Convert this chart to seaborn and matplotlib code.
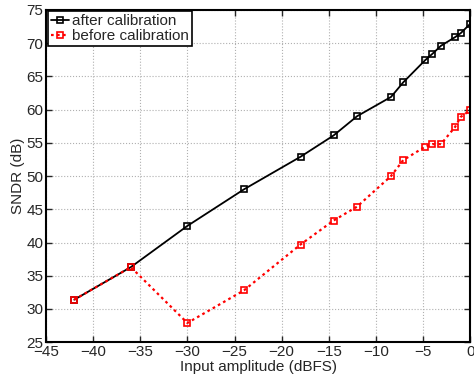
import pandas as pd
import matplotlib.pyplot as plt
import seaborn as sns

# input amplitude (dBFS) and SNDR (dB)
amplitude = [-42, -36, -30, -24, -18, -14.5, -12, -8.4, -7.1, -4.8, -4.0, -3.1, -1.6, -1.0, 0]
sndr_after = [31.4, 36.3, 42.5, 48.0, 52.9, 56.1, 59.0, 61.9, 64.1, 67.4, 68.4, 69.6, 70.9, 71.5, 72.9]
sndr_before = [31.4, 36.3, 27.9, 32.8, 39.7, 43.3, 45.4, 50.0, 52.4, 54.4, 54.8, 54.8, 57.4, 58.9, 59.9]

sns.set_style("ticks")
plt.rcParams['font.family'] = ['Liberation Sans', 'DejaVu Sans']
plt.rcParams['font.size'] = 11

df = pd.DataFrame({'x': amplitude, 'after': sndr_after, 'before': sndr_before})

fig = plt.figure(figsize=(4.74, 3.79), dpi=100)
ax = fig.add_axes([0.097, 0.097, 0.895, 0.877])

sns.lineplot(data=df, x='x', y='after', ax=ax, sort=False, color='black',
             marker='s', markersize=4, markerfacecolor='none', markeredgecolor='black',
             markeredgewidth=1.2, linewidth=1.3, label='after calibration')
sns.lineplot(data=df, x='x', y='before', ax=ax, sort=False, color='red',
             linestyle=(0, (1.2, 1.5)), marker='s', markersize=4, markerfacecolor='none',
             markeredgecolor='red', markeredgewidth=1.2, linewidth=1.6,
             label='before calibration')

ax.set_xlim(-45, 0)
ax.set_ylim(25, 75)
ax.set_xticks(range(-45, 1, 5))
ax.set_yticks(range(25, 76, 5))
ax.grid(True, linestyle=':', color='#b0b0b0', linewidth=0.8)
ax.tick_params(direction='in', top=True, right=True, length=4, width=1, labelsize=11, pad=2)
for s in ax.spines.values():
    s.set_linewidth(1.5)
    s.set_color('black')

ax.set_xlabel('Input amplitude (dBFS)', fontsize=11, labelpad=1)
ax.set_ylabel('SNDR (dB)', fontsize=11, labelpad=1)

leg = ax.legend(loc='upper left', fontsize=11, handlelength=1.2, handletextpad=0.2,
                borderpad=0.2, labelspacing=0.05, borderaxespad=0.1, fancybox=False,
                framealpha=1)
leg.get_frame().set_edgecolor('black')
leg.get_frame().set_linewidth(1.2)

fig.savefig('out.png', dpi=100)
